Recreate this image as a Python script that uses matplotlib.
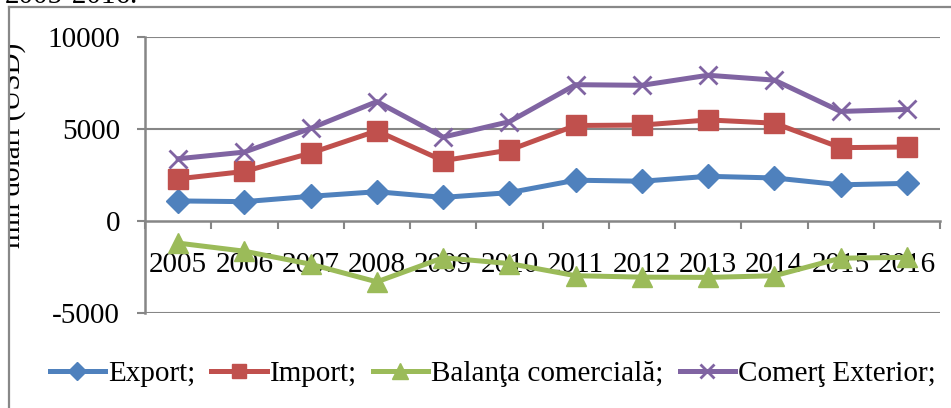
import numpy as np
import matplotlib
matplotlib.use("Agg")
import matplotlib.pyplot as plt
from matplotlib.transforms import Bbox, TransformedBbox
from matplotlib.lines import Line2D

plt.rcParams['font.family'] = ['Liberation Serif', 'DejaVu Serif']

years = ['2005', '2006', '2007', '2008', '2009', '2010',
         '2011', '2012', '2013', '2014', '2015', '2016']
export_vals = [1091, 1052, 1342, 1591, 1283, 1542, 2217, 2162, 2428, 2340, 1967, 2045]
import_vals = [2292, 2693, 3690, 4899, 3278, 3855, 5191, 5213, 5493, 5317, 3987, 4020]
balanta_vals = [-1201, -1641, -2348, -3308, -1995, -2313, -2974, -3051, -3065, -2977, -2020, -1975]
comert_vals = [3383, 3745, 5032, 6490, 4561, 5397, 7408, 7375, 7921, 7657, 5954, 6065]

series = [
    ('Export;', export_vals, '#4F81BD', 'D', 12),
    ('Import;', import_vals, '#C0504D', 's', 14),
    ('Balanţa comercială;', balanta_vals, '#9BBB59', '^', 15),
    ('Comerţ Exterior;', comert_vals, '#8064A2', 'x', 13),
]

W, H = 951, 408
fig = plt.figure(figsize=(W / 100, H / 100), dpi=100)
ax = fig.add_axes([145 / W, 1 - 313 / H, (940 - 145) / W, (313 - 37) / H])

x = np.arange(len(years))
handles = []
for label, vals, color, marker, ms in series:
    mew = 2 if marker == 'x' else 1
    ax.plot(x, vals, color=color, lw=3.6, marker=marker, markersize=ms,
            markerfacecolor=color, markeredgecolor=color, markeredgewidth=mew,
            solid_joinstyle='round', label=label)
    handles.append(Line2D([], [], color=color, lw=3.6, marker=marker,
                          markersize=ms * 0.75, markerfacecolor=color,
                          markeredgecolor=color, markeredgewidth=mew))

grid_c = '#868686'
ax.set_xlim(-0.5, len(years) - 0.5)
ax.set_ylim(-5000, 10000)
ax.set_yticks([-5000, 0, 5000, 10000])
ax.set_yticklabels(['-5000', '0', '5000', '10000'])
for yv in [-5000, 5000, 10000]:
    ax.axhline(yv, color=grid_c, lw=1.5, zorder=0.5)

for s in ['top', 'right']:
    ax.spines[s].set_visible(False)
ax.spines['left'].set_color(grid_c)
ax.spines['left'].set_linewidth(1.8)
ax.spines['bottom'].set_position(('data', 0))
ax.spines['bottom'].set_color(grid_c)
ax.spines['bottom'].set_linewidth(1.8)
ax.spines['bottom'].set_zorder(0.6)

ax.set_xticks(x)
ax.set_xticklabels(years)
ax.set_xticks(np.arange(-0.5, len(years)), minor=True)
ax.tick_params(axis='x', which='major', length=0, pad=22, labelsize=21)
ax.tick_params(axis='x', which='minor', length=6, width=1.5, color=grid_c, direction='out')
ax.tick_params(axis='y', length=6, width=1.5, color=grid_c, pad=12, labelsize=21)

fig.legend(handles, [s[0] for s in series], loc='center', ncol=4,
           bbox_to_anchor=(0.518, 1 - 374 / H), frameon=False, fontsize=21,
           handlelength=1.9, handletextpad=0.1, columnspacing=0.55)

# outer chart frame (extends past right and bottom edge)
fig.add_artist(Line2D([9 / W, 9 / W], [0, 1 - 7 / H], color='#888888', lw=1.6,
                      transform=fig.transFigure))
fig.add_artist(Line2D([9 / W, 1], [1 - 7 / H, 1 - 7 / H], color='#888888', lw=1.6,
                      transform=fig.transFigure))

yl = fig.text(26 / W, 1 - 145 / H, 'mln dolari (USD)', rotation=90,
              ha='right', va='center', fontsize=21)
yl.set_clip_box(TransformedBbox(Bbox([[10 / W, 0], [1, 1 - 8 / H]]), fig.transFigure))
yl.set_clip_on(True)

fig.text(5 / W, 1 - 3 / H, '2005-2016.', ha='left', va='baseline', fontsize=21)

fig.savefig('out.png', dpi=100)
